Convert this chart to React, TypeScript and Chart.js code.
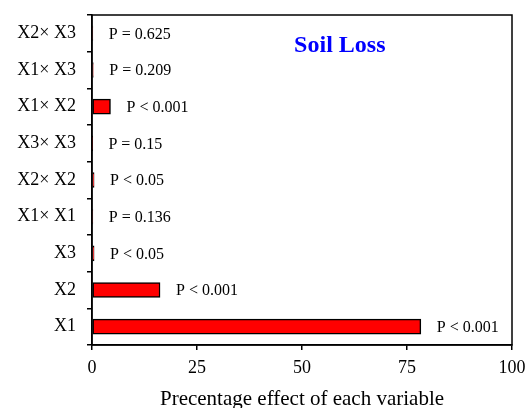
import React, { useEffect, useRef } from "react";
import { Chart, registerables } from "chart.js";

Chart.register(...registerables);

const categories = ["X2× X3", "X1× X3", "X1× X2", "X3× X3", "X2× X2", "X1× X1", "X3", "X2", "X1"];
const effects = [0.2, 0.3, 4.4, 0.1, 0.5, 0.2, 0.5, 16.2, 78.3];
const pLabels = ["P = 0.625", "P = 0.209", "P < 0.001", "P = 0.15", "P < 0.05", "P = 0.136", "P < 0.05", "P < 0.001", "P < 0.001"];
const xTicks = [0, 25, 50, 75, 100];
const chartTitle = "Soil Loss";
const xAxisTitle = "Precentage effect of each variable";

const FONT = "'Liberation Serif', 'Times New Roman', serif";

const overlayPlugin = {
  id: "overlay",
  afterDatasetsDraw(chart: any) {
    const { ctx, chartArea } = chart;
    const meta = chart.getDatasetMeta(0);
    ctx.save();
    // box
    ctx.strokeStyle = "#000";
    ctx.lineWidth = 1.5;
    ctx.strokeRect(chartArea.left, chartArea.top, chartArea.right - chartArea.left, chartArea.bottom - chartArea.top);
    // p labels
    ctx.fillStyle = "#000";
    ctx.font = `16px ${FONT}`;
    ctx.textAlign = "left";
    ctx.textBaseline = "middle";
    meta.data.forEach((bar: any, i: number) => {
      const x = Math.max(bar.x, chartArea.left) + 16;
      ctx.fillText(pLabels[i], x, bar.y + 1);
    });
    // title
    ctx.fillStyle = "#0000FF";
    ctx.font = `bold 24px ${FONT}`;
    ctx.textAlign = "center";
    const tx = chartArea.left + (chartArea.right - chartArea.left) * 0.59;
    ctx.fillText(chartTitle, tx, chartArea.top + 31);
    // x axis title
    ctx.fillStyle = "#000";
    ctx.font = `21px ${FONT}`;
    ctx.fillText(xAxisTitle, (chartArea.left + chartArea.right) / 2, chartArea.bottom + 54);
    ctx.restore();
  },
};

export default function App() {
  const ref = useRef<HTMLCanvasElement>(null);
  useEffect(() => {
    document.body.style.margin = "0";
    const chart = new Chart(ref.current!, {
      type: "bar",
      data: {
        labels: categories,
        datasets: [
          {
            data: effects,
            backgroundColor: "#FF0000",
            borderColor: "#000",
            borderWidth: 1.5,
            barThickness: 15,
            borderSkipped: false,
          },
        ],
      },
      options: {
        indexAxis: "y",
        animation: false,
        responsive: false,
        maintainAspectRatio: false,
        layout: { padding: { top: 15, right: 14, left: 0, bottom: 0 } },
        plugins: { legend: { display: false }, tooltip: { enabled: false }, title: { display: false } },
        scales: {
          x: {
            min: 0,
            max: 100,
            afterBuildTicks: (scale: any) => {
              scale.ticks = xTicks.map((v) => ({ value: v }));
            },
            afterFit: (scale: any) => {
              scale.height = 63;
              scale.paddingLeft = 0;
              scale.paddingRight = 0;
            },
            grid: { drawOnChartArea: false, drawTicks: true, tickLength: 5, color: "#000", lineWidth: 1.5 },
            border: { display: true, color: "#000", width: 1.5 },
            ticks: { color: "#000", font: { family: FONT, size: 18 }, padding: 7, maxRotation: 0 },
            title: { display: false },
          },
          y: {
            offset: true,
            afterFit: (scale: any) => {
              scale.width = 92;
              scale.paddingTop = 0;
              scale.paddingBottom = 0;
            },
            grid: { offset: true, drawOnChartArea: false, drawTicks: true, tickLength: 5, color: "#000", lineWidth: 1.5 },
            border: { display: true, color: "#000", width: 1.5 },
            ticks: { color: "#000", font: { family: FONT, size: 18 }, padding: 11 },
          },
        },
      },
      plugins: [overlayPlugin],
    } as any);
    return () => chart.destroy();
  }, []);
  return (
    <div style={{ width: 526, height: 408 }}>
      <canvas ref={ref} width={526} height={408} style={{ display: "block" }} />
    </div>
  );
}
